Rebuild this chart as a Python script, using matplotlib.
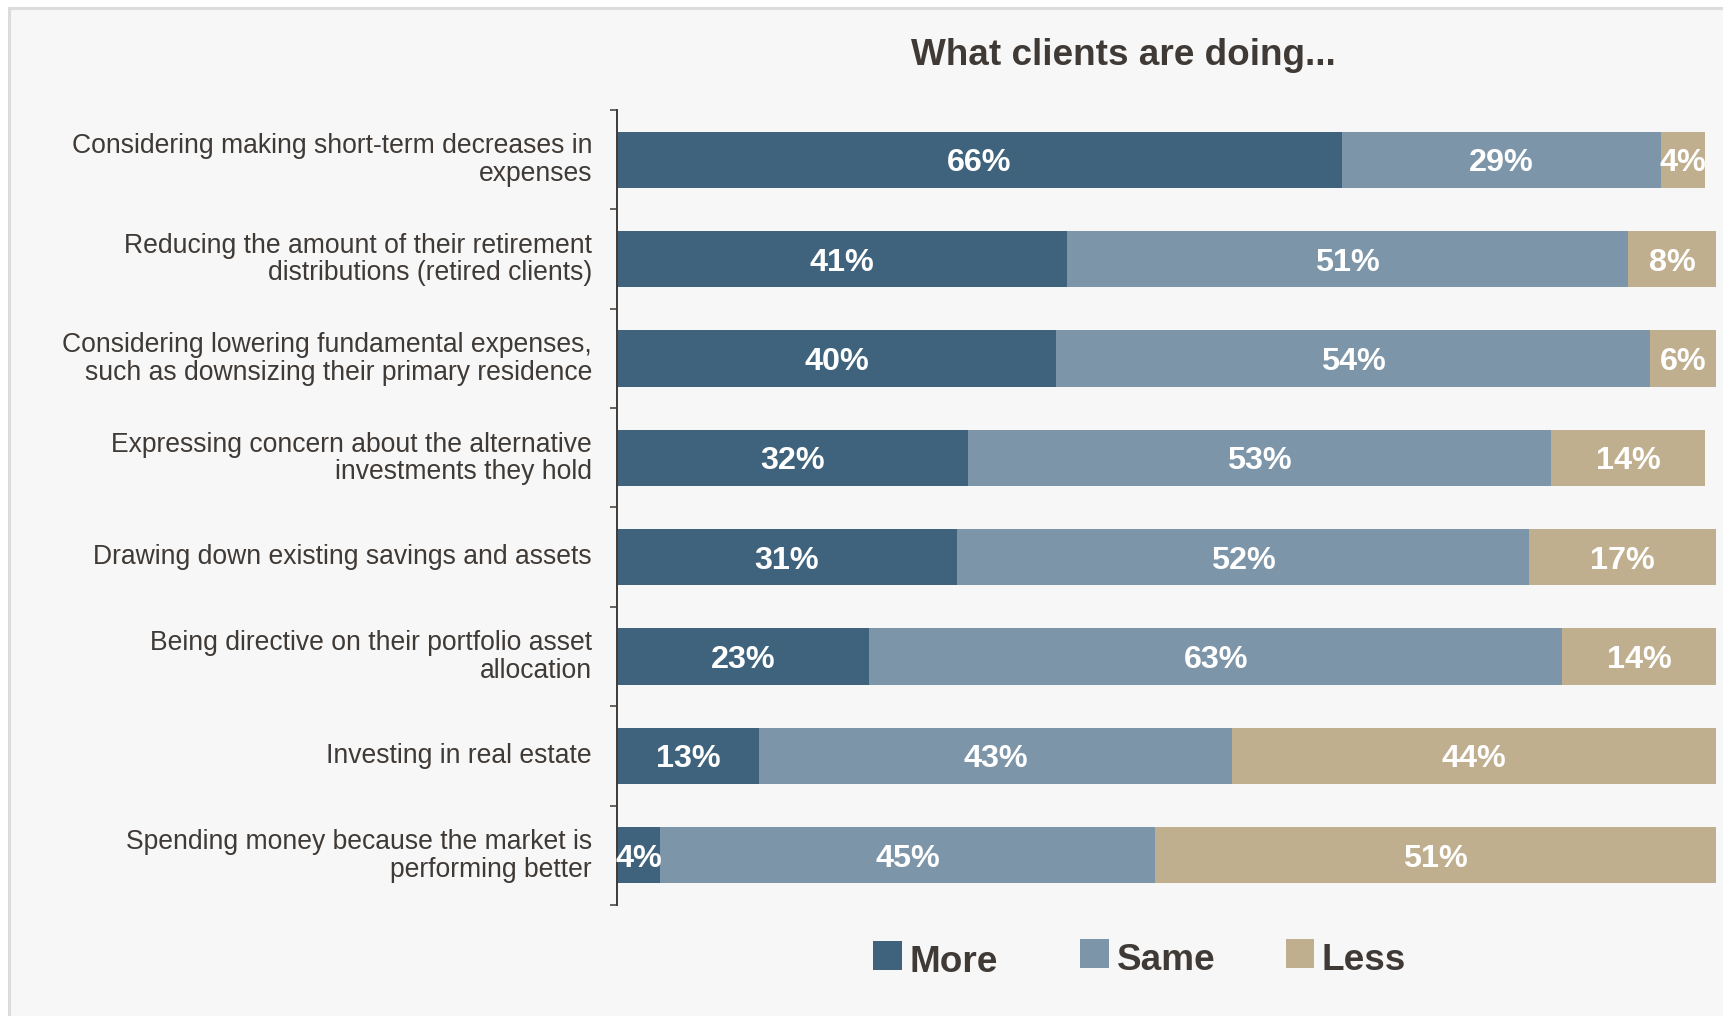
import numpy as np
import matplotlib
matplotlib.use('Agg')
import matplotlib.pyplot as plt
import matplotlib.transforms as mtransforms
from matplotlib.patches import Rectangle

# survey answers, top row first
categories = [
    'Considering making short-term decreases in\nexpenses',
    'Reducing the amount of their retirement\ndistributions (retired clients)',
    'Considering lowering fundamental expenses,\nsuch as downsizing their primary residence',
    'Expressing concern about the alternative\ninvestments they hold',
    'Drawing down existing savings and assets',
    'Being directive on their portfolio asset\nallocation',
    'Investing in real estate',
    'Spending money because the market is\nperforming better',
]
more = [66, 41, 40, 32, 31, 23, 13, 4]
same = [29, 51, 54, 53, 52, 63, 43, 45]
less = [4, 8, 6, 14, 17, 14, 44, 51]
series_names = ['More', 'Same', 'Less']

colors = ['#3f637d', '#7d95a8', '#c0af8e']
textcol = '#3f3a36'

plt.rcParams['font.family'] = ['Liberation Sans', 'DejaVu Sans']

W, H = 1723, 1016
fig = plt.figure(figsize=(W / 100, H / 100), dpi=100, facecolor='white')

# light panel with grey border along top and left
fig.patches.append(Rectangle((9 / W, -0.1), 1.2, 1 - 7.5 / H + 0.1,
                             transform=fig.transFigure, facecolor='#f7f7f7',
                             edgecolor='#dcdcdc', lw=2.2, zorder=-5))

ax = fig.add_axes([616.5 / W, 1 - 905 / H, (1716 - 616.5) / W, (905 - 110) / H])
ax.set_facecolor('none')

y = np.arange(len(categories))
left = np.zeros(len(categories))
for vals, col in zip([more, same, less], colors):
    vals = np.array(vals, dtype=float)
    ax.barh(y, vals, left=left, height=0.565, color=col, edgecolor='none')
    for yi, l, v in zip(y, left, vals):
        # baseline sits half a cap height below the bar centre
        ax.annotate(f'{int(v)}%', (l + v / 2, yi), xytext=(0, -8.3),
                    textcoords='offset points', ha='center', va='baseline',
                    color='white', fontsize=23.3, fontweight='bold',
                    annotation_clip=False)
    left += vals

ax.set_xlim(0, 100)
ax.set_ylim(len(categories) - 0.5, -0.5)

for s in ['top', 'right', 'bottom']:
    ax.spines[s].set_visible(False)
ax.spines['left'].set_color(textcol)
ax.spines['left'].set_linewidth(1.4)
ax.set_xticks([])

# ticks between rows, labels centred on rows
ax.set_yticks(np.arange(-0.5, len(categories)), labels=[''] * (len(categories) + 1))
ax.tick_params(axis='y', which='major', length=5, width=1.1, color=textcol)
ax.set_yticks(y, minor=True)
ax.set_yticklabels(categories, minor=True, fontsize=19.1, color=textcol,
                   linespacing=1.08)
ax.tick_params(axis='y', which='minor', length=0, pad=17.6)
lift = mtransforms.ScaledTranslation(0, 3.3 / 100, fig.dpi_scale_trans)
for lab in ax.get_yticklabels(minor=True):
    lab.set_transform(lab.get_transform() + lift)

fig.text(1123 / W, 1 - 65 / H, 'What clients are doing...', ha='center',
         va='baseline', fontsize=26.6, fontweight='bold', color=textcol)

# legend entries on an even pitch
key_x = [873.5, 1080, 1285.5]
key_top = [941, 939, 939]
key_size = 28.5
for kx, kt, c, name in zip(key_x, key_top, colors, series_names):
    fig.patches.append(Rectangle((kx / W, 1 - (kt + key_size) / H),
                                 key_size / W, key_size / H,
                                 transform=fig.transFigure, facecolor=c,
                                 edgecolor='none'))
    fig.text((kx + key_size + 8) / W, 1 - (kt + 31) / H, name, ha='left',
             va='baseline', fontsize=26.6, fontweight='bold', color=textcol)

fig.savefig('out.png', dpi=100, facecolor='white')
